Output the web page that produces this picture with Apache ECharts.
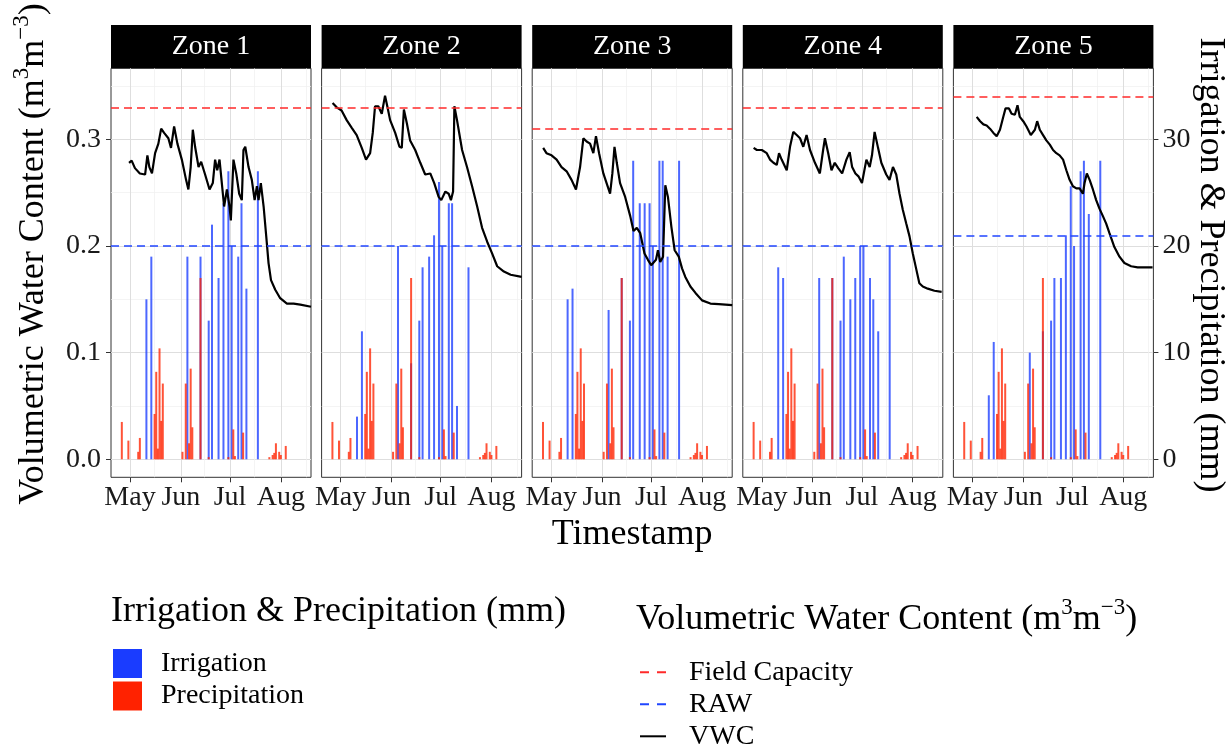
<!DOCTYPE html>
<html>
<head>
<meta charset="utf-8">
<title>Volumetric water content by zone</title>
<script src="https://cdn.jsdelivr.net/npm/echarts@6/dist/echarts.min.js"></script>
<style>
  html, body { margin: 0; padding: 0; background: #fff; }
  #chart { width: 1231px; height: 749px; }
</style>
</head>
<body>
<div id="chart"></div>
<script>
// ---- data ----
const zones = ['Zone 1', 'Zone 2', 'Zone 3', 'Zone 4', 'Zone 5']
const monthTicks = ['2021-05-01', '2021-06-01', '2021-07-01', '2021-08-01']
const monthLabels = ['May', 'Jun', 'Jul', 'Aug']
const monthMinor = ['2021-05-16', '2021-06-15 12:00', '2021-07-16', '2021-08-16 12:00']
const vwcTicks = [0, 0.1, 0.2, 0.3]
const vwcMinor = [0.05, 0.15, 0.25, 0.35]
const mmTicks = [0, 10, 20, 30]

const fieldCapacity = [0.33, 0.33, 0.31, 0.33, 0.34]
const raw = [0.197, 0.196, 0.196, 0.205, 0.207]

// precipitation is the same weather for every zone
const precipDates = ['2021-04-26', '2021-04-30', '2021-05-06', '2021-05-07', '2021-05-16', '2021-05-17', '2021-05-18',
  '2021-05-19', '2021-05-20', '2021-05-21', '2021-06-02', '2021-06-04', '2021-06-06', '2021-06-07', '2021-06-08',
  '2021-06-13', '2021-06-18', '2021-06-30', '2021-07-03', '2021-07-04', '2021-07-09', '2021-07-25', '2021-07-27',
  '2021-07-28', '2021-07-29', '2021-07-31', '2021-08-01', '2021-08-04']
const precipMm = [3.5, 1.75, 0.7, 2.0, 4.25, 8.2, 1.0, 10.4, 3.6, 7.1, 0.7, 7.1, 1.5, 8.5, 3.0,
  17, 0.2, 0.2, 2.8, 0.3, 2.5, 0.2, 0.4, 0.6, 1.5, 0.7, 0.4, 1.25]

const irrigationDates = ['2021-05-11', '2021-05-14', '2021-06-05', '2021-06-13', '2021-06-18', '2021-06-20', '2021-06-24',
  '2021-06-27', '2021-06-30', '2021-07-02', '2021-07-06', '2021-07-08', '2021-07-11', '2021-07-18']
const irrigationZone1 = [15, 19, 19, 19, 13, 22, 17, 24, 27, 20, 19, 24, 16, 27]
const irrigationZone2 = [4, 12, 20, 9, 13, 18, 19, 21, 26, 20, 24, 24, 5, 18]
const irrigationZone3 = [15, 16, 14, 17, 13, 28, 24, 24, 24, 20, 28, 28, 19, 28]
const irrigationZone4 = [18, 17, 17, 17, 13, 19, 15, 17, 20, 20, 17, 15, 12, 20]
const irrigationZone5 = [6, 11, 10, 12, 13, 17, 17, 21, 25.6, 20, 27, 28, 23, 28]

// VWC: [days after 1 May, m3/m3]
const vwcZone1 = [[-0.6, 0.278], [1, 0.28], [3, 0.273], [6, 0.268], [9.2, 0.267], [10.6, 0.285], [11.8, 0.274],
  [13.4, 0.268], [15.3, 0.287], [17.3, 0.296], [19, 0.31], [20.8, 0.306], [23.4, 0.301], [25, 0.292], [26.9, 0.312],
  [28.9, 0.296], [31.6, 0.281], [34.2, 0.262], [35.6, 0.253], [37, 0.274], [38.3, 0.309], [39.7, 0.293], [41.8, 0.274],
  [43.4, 0.279], [45.8, 0.267], [48.5, 0.253], [50.5, 0.259], [51.9, 0.281], [53.2, 0.271], [54.6, 0.281], [56, 0.259],
  [57.4, 0.237], [59.1, 0.253], [60.7, 0.237], [61.5, 0.224], [63.1, 0.281], [64.8, 0.268], [66.6, 0.249], [68.2, 0.243],
  [69.2, 0.29], [70.3, 0.293], [72.3, 0.274], [74.3, 0.262], [76, 0.243], [77.4, 0.256], [78.4, 0.243], [79.8, 0.259],
  [81.5, 0.237], [83.1, 0.209], [84.5, 0.184], [86, 0.168], [88.6, 0.159], [91.6, 0.151], [95.7, 0.146], [99.8, 0.146],
  [103.9, 0.145], [110.4, 0.143]]
const vwcZone2 = [[-4.9, 0.334], [-2.4, 0.33], [0.6, 0.327], [3.7, 0.318], [6.7, 0.311], [9.8, 0.304], [12.9, 0.292],
  [15.5, 0.281], [18, 0.287], [19.6, 0.306], [21, 0.331], [23, 0.331], [25.1, 0.324], [27.1, 0.341], [28.6, 0.33],
  [30.2, 0.318], [33.3, 0.306], [35.9, 0.293], [37.3, 0.292], [38.6, 0.328], [40.4, 0.315], [42.4, 0.299], [45.5, 0.29],
  [48.6, 0.278], [51.6, 0.267], [54.7, 0.268], [57.1, 0.259], [59.8, 0.246], [61.4, 0.243], [63.9, 0.251], [65.9, 0.249],
  [67.3, 0.243], [68.6, 0.251], [69.4, 0.331], [71, 0.318], [74.1, 0.29], [77.1, 0.274], [80.2, 0.256], [83.3, 0.237],
  [86.3, 0.217], [89.4, 0.204], [92.4, 0.193], [95.5, 0.181], [99.6, 0.176], [103.7, 0.173], [110.4, 0.171]]
const vwcZone3 = [[-4.9, 0.292], [-2.9, 0.287], [0.2, 0.285], [3.3, 0.281], [6.3, 0.274], [9.4, 0.27], [12.4, 0.262],
  [15.1, 0.253], [17.6, 0.274], [19.6, 0.301], [21.6, 0.298], [23.7, 0.296], [25.7, 0.287], [27.3, 0.303], [29.2, 0.287],
  [31.8, 0.268], [35.9, 0.249], [37.3, 0.268], [38.6, 0.293], [40, 0.278], [42, 0.259], [45.1, 0.246], [48.2, 0.228],
  [50.2, 0.214], [52.2, 0.217], [54.3, 0.212], [56.9, 0.193], [59, 0.187], [61, 0.182], [63.9, 0.187], [65.1, 0.196],
  [66.5, 0.185], [68.2, 0.19], [69.6, 0.257], [71.2, 0.246], [73.3, 0.218], [75.3, 0.196], [77.8, 0.19], [79.8, 0.179],
  [81.8, 0.171], [84.9, 0.162], [88, 0.156], [92, 0.149], [97.1, 0.146], [102.2, 0.1455], [110.4, 0.1445]]
const vwcZone4 = [[-5, 0.292], [-3, 0.29], [0, 0.29], [3, 0.287], [5, 0.281], [7.1, 0.278], [9.1, 0.276], [10.5, 0.287],
  [12.1, 0.281], [15.2, 0.271], [17.2, 0.293], [19.2, 0.307], [21.3, 0.304], [23.3, 0.301], [25.3, 0.293], [27.3, 0.304],
  [29.4, 0.29], [32.4, 0.278], [35.4, 0.268], [37.4, 0.29], [38.5, 0.301], [40.5, 0.287], [42.5, 0.271], [44.5, 0.278],
  [46.6, 0.273], [49, 0.268], [51.6, 0.281], [53.6, 0.288], [55.1, 0.274], [57.1, 0.268], [59.1, 0.265], [61.1, 0.259],
  [63.8, 0.281], [65.8, 0.274], [67.2, 0.285], [68.8, 0.307], [70.9, 0.292], [72.9, 0.278], [75.9, 0.267], [77.9, 0.262],
  [80, 0.274], [82, 0.267], [84, 0.249], [86, 0.234], [88.1, 0.221], [90.1, 0.209], [92.1, 0.193], [94.1, 0.179],
  [96.1, 0.165], [98.2, 0.162], [101.2, 0.16], [105.3, 0.158], [109.7, 0.157]]
const vwcZone5 = [[2.6, 0.321], [4.7, 0.317], [6.7, 0.314], [8.7, 0.313], [10.7, 0.31], [12.8, 0.306], [14.8, 0.303],
  [16.8, 0.309], [18.8, 0.321], [20.2, 0.329], [22.3, 0.329], [23.9, 0.324], [25.9, 0.323], [27.5, 0.332], [28.9, 0.321],
  [31, 0.317], [33, 0.312], [35.6, 0.304], [38.1, 0.309], [39.5, 0.317], [41.1, 0.309], [43.1, 0.304], [45.1, 0.299],
  [47.2, 0.295], [49.2, 0.29], [51.2, 0.287], [53.2, 0.285], [55.3, 0.281], [57.3, 0.271], [59.3, 0.262], [61.3, 0.256],
  [63.4, 0.254], [65.4, 0.254], [67.4, 0.249], [68.4, 0.259], [69.8, 0.268], [71.5, 0.262], [73.5, 0.253], [75.5, 0.243],
  [77.5, 0.235], [79.6, 0.228], [81.6, 0.221], [83.6, 0.212], [86.6, 0.199], [89.7, 0.19], [92.7, 0.184], [96.8, 0.181],
  [100.8, 0.18], [104.9, 0.18], [109.9, 0.18]]

const irrigation = [irrigationZone1, irrigationZone2, irrigationZone3, irrigationZone4, irrigationZone5]
const vwc = [vwcZone1, vwcZone2, vwcZone3, vwcZone4, vwcZone5]

// ---- layout / style ----
const serif = '"Liberation Serif", "Times New Roman", serif'
const irrColor = '#1a3cff'
const precipColor = '#ff2200'
const fcColor = '#ff2a2a'
const rawColor = '#2046ff'
const DAY = 86400000
// x is measured in days after 1 May (the time axis can't take custom label positions)
const may1 = +echarts.time.parse('2021-05-01')
const toDay = s => (+echarts.time.parse(s) - may1) / DAY
const xMin = -11.6
const xMax = 110.4
const monthTickDays = monthTicks.map(toDay)
const monthMinorDays = monthMinor.map(toDay)

const panelTop = 68.3
const panelHeight = 409
const panelWidth = 200
const panelLeft = zones.map((z, i) => 111 + i * 210.6)

const majorLine = { show: true, lineStyle: { color: '#dedede', width: 1 } }
const minorLine = { show: true, lineStyle: { color: '#efefef', width: 0.7 } }
const tickStyle = { color: '#333', width: 1 }
const dashIcon = 'path://M0,0H9V2H0Z M17,0H26V2H17Z'
const solidIcon = 'path://M0,0H26V2H0Z'

const chart = echarts.init(document.getElementById('chart'), null, { renderer: 'canvas' })

let grids = [], xAxes = [], yAxes = [], series = [], graphics = []

zones.forEach((zone, i) => {
  grids.push({
    left: panelLeft[i], top: panelTop, width: panelWidth, height: panelHeight,
    show: true, borderColor: '#333', borderWidth: 1, backgroundColor: 'transparent',
    containLabel: false, outerBoundsMode: 'none'
  })

  // main date axis
  xAxes.push({
    type: 'value', gridIndex: i, position: 'bottom', min: xMin, max: xMax,
    axisLine: { show: false, onZero: false },
    axisTick: { show: true, length: 5, lineStyle: tickStyle, customValues: monthTickDays },
    axisLabel: {
      show: true, margin: 6, fontSize: 28, fontFamily: serif, color: '#1a1a1a',
      customValues: monthTickDays, hideOverlap: false, showMinLabel: true, showMaxLabel: true,
      formatter: v => monthLabels[monthTickDays.indexOf(v)] || ''
    },
    splitLine: majorLine,
    name: i === 2 ? 'Timestamp' : '', nameLocation: 'middle', nameGap: 37,
    nameTextStyle: { fontSize: 36, fontFamily: serif, color: '#000' }
  })
  // minor vertical grid
  xAxes.push({
    type: 'value', gridIndex: i, position: 'top', min: xMin, max: xMax,
    axisLine: { show: false, onZero: false },
    axisTick: { show: false, customValues: monthMinorDays },
    axisLabel: { show: false },
    splitLine: minorLine
  })

  // VWC axis (left)
  yAxes.push({
    type: 'value', gridIndex: i, position: 'left', min: -0.0169, max: 0.3666,
    axisLine: { show: false, onZero: false },
    axisTick: { show: i === 0, length: 5, lineStyle: tickStyle, customValues: vwcTicks },
    axisLabel: {
      show: i === 0, margin: 10, fontSize: 28, fontFamily: serif, color: '#1a1a1a',
      customValues: vwcTicks, formatter: v => v.toFixed(1)
    },
    splitLine: majorLine
  })
  // irrigation & precipitation axis (right), 10 mm = 0.1 m3/m3
  yAxes.push({
    type: 'value', gridIndex: i, position: 'right', min: -1.69, max: 36.66,
    axisLine: { show: false, onZero: false },
    axisTick: { show: i === 4, length: 5, lineStyle: tickStyle, customValues: mmTicks },
    axisLabel: {
      show: i === 4, margin: 9, fontSize: 28, fontFamily: serif, color: '#1a1a1a',
      customValues: mmTicks
    },
    splitLine: { show: false }
  })
  // minor horizontal grid
  yAxes.push({
    type: 'value', gridIndex: i, position: 'left', min: -0.0169, max: 0.3666,
    axisLine: { show: false, onZero: false },
    axisTick: { show: false, customValues: vwcMinor },
    axisLabel: { show: false },
    splitLine: minorLine
  })

  series.push({
    name: 'Irrigation', type: 'bar', xAxisIndex: 2 * i, yAxisIndex: 3 * i + 1,
    barWidth: 2, barGap: '-100%', animation: false,
    itemStyle: { color: irrColor, opacity: 0.78 },
    data: irrigationDates.map((d, k) => [toDay(d), irrigation[i][k]])
  })
  series.push({
    name: 'Precipitation', type: 'bar', xAxisIndex: 2 * i, yAxisIndex: 3 * i + 1,
    barWidth: 2, barGap: '-100%', animation: false,
    itemStyle: { color: precipColor, opacity: 0.78 },
    data: precipDates.map((d, k) => [toDay(d), precipMm[k]])
  })
  series.push({
    name: 'VWC', type: 'line', xAxisIndex: 2 * i, yAxisIndex: 3 * i, z: 4,
    symbol: 'none', showSymbol: false, animation: false,
    lineStyle: { color: '#000', width: 2.2 }, itemStyle: { color: '#000' },
    data: vwc[i],
    markLine: {
      silent: true, symbol: ['none', 'none'], animation: false,
      label: { show: false },
      data: [
        { yAxis: fieldCapacity[i], lineStyle: { color: fcColor, type: [8, 5], width: 1.6 } },
        { yAxis: raw[i], lineStyle: { color: rawColor, type: [8, 5], width: 1.6 } }
      ]
    }
  })
  // legend-only entries for the threshold lines
  series.push({
    name: 'Field Capacity', type: 'line', xAxisIndex: 2 * i, yAxisIndex: 3 * i,
    symbol: 'none', data: [], lineStyle: { color: fcColor, type: [8, 5], width: 1.6 }, itemStyle: { color: fcColor }
  })
  series.push({
    name: 'RAW', type: 'line', xAxisIndex: 2 * i, yAxisIndex: 3 * i,
    symbol: 'none', data: [], lineStyle: { color: rawColor, type: [8, 5], width: 1.6 }, itemStyle: { color: rawColor }
  })

  // facet strip
  graphics.push({
    type: 'rect', shape: { x: panelLeft[i], y: 25, width: panelWidth, height: panelTop - 25 },
    style: { fill: '#000' }, silent: true
  })
  graphics.push({
    type: 'text', x: panelLeft[i] + panelWidth / 2, y: 47, silent: true,
    style: { text: zone, fill: '#fff', fontSize: 28, fontFamily: serif, align: 'center', verticalAlign: 'middle' }
  })
})

const supRich = {
  n: { fontSize: 36, fontFamily: serif, color: '#000', lineHeight: 42, verticalAlign: 'bottom' },
  s: { fontSize: 23, fontFamily: serif, color: '#000', lineHeight: 24, verticalAlign: 'top' }
}
const vwcTitle = '{n|Volumetric Water Content (m}{s|3}{n|m}{s|\u22123}{n|)}'

// axis titles
graphics.push({
  type: 'text', x: 31, y: 254, rotation: Math.PI / 2, silent: true,
  style: { text: vwcTitle, rich: supRich, align: 'center', verticalAlign: 'middle' }
})
graphics.push({
  type: 'text', x: 1210, y: 265, rotation: -Math.PI / 2, silent: true,
  style: {
    text: 'Irrigation & Precipitation (mm)', fontSize: 36, fontFamily: serif, fill: '#000',
    align: 'center', verticalAlign: 'middle'
  }
})

const option = {
  backgroundColor: '#fff',
  animation: false,
  title: [
    {
      text: 'Irrigation & Precipitation (mm)', left: 111, top: 594, padding: 0,
      textStyle: { fontSize: 36, fontFamily: serif, fontWeight: 'normal', color: '#000' }
    },
    {
      text: vwcTitle, left: 636, top: 596, padding: 0,
      textStyle: { fontWeight: 'normal', rich: supRich }
    }
  ],
  legend: [
    {
      data: ['Irrigation', 'Precipitation'], orient: 'vertical', left: 113, top: 649, padding: 0,
      height: 80, icon: 'rect', itemWidth: 29, itemHeight: 29, itemGap: 3.5, selectedMode: false,
      itemStyle: { opacity: 1 },
      formatter: name => '{g| }' + name,
      textStyle: { fontSize: 28, lineHeight: 29, fontFamily: serif, color: '#000', rich: { g: { width: 14, lineHeight: 29 } } }
    },
    {
      data: [
        { name: 'Field Capacity', icon: dashIcon },
        { name: 'RAW', icon: dashIcon },
        { name: 'VWC', icon: solidIcon }
      ],
      orient: 'vertical', left: 640, top: 658.3, padding: 0, height: 110,
      itemWidth: 26, itemHeight: 2, itemGap: 4, selectedMode: false,
      formatter: name => '{g| }' + name,
      textStyle: { fontSize: 28, lineHeight: 28, fontFamily: serif, color: '#000', rich: { g: { width: 18, lineHeight: 28 } } }
    }
  ],
  grid: grids,
  xAxis: xAxes,
  yAxis: yAxes,
  series: series,
  graphic: graphics
}

chart.setOption(option)
</script>
</body>
</html>
